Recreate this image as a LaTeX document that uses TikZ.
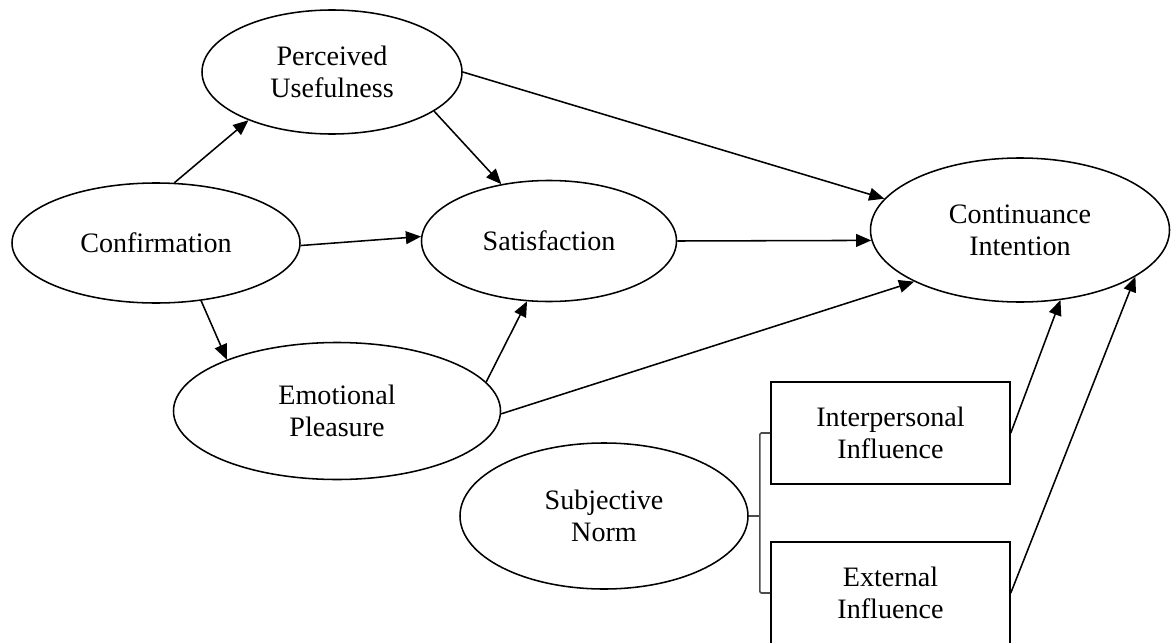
\documentclass[tikz,border=0pt]{standalone}
\usepackage{fontspec}
\setmainfont{Liberation Serif}
\usetikzlibrary{arrows.meta,shapes.geometric}
\tikzset{arr/.style={-{Triangle[length=3.8mm,width=3.2mm]},line width=1.1pt}}

\begin{document}
\begin{tikzpicture}[font=\fontsize{20}{23}\selectfont,
 lat/.style={ellipse,draw,line width=1.1pt,inner sep=0pt,align=center},
 ind/.style={draw,line width=1.1pt,minimum width=5.975cm,minimum height=2.55cm,align=center}]
\useasboundingbox (0,0) rectangle (29.3,-16.05);
\node[lat,minimum width=6.5cm,minimum height=3.1cm] (pu) at (8.3,-1.8) {Perceived\\Usefulness};
\node[lat,minimum width=7.2cm,minimum height=3cm] (conf) at (3.9,-6.075) {Confirmation};
\node[lat,minimum width=6.375cm,minimum height=3.025cm] (sat) at (13.725,-6.025) {Satisfaction};
\node[lat,minimum width=7.475cm,minimum height=3.6cm] (ci) at (25.5,-5.75) {Continuance\\Intention};
\node[lat,minimum width=8.175cm,minimum height=3.425cm] (ep) at (8.425,-10.275) {Emotional\\Pleasure};
\node[lat,minimum width=7.2cm,minimum height=3.65cm] (sn) at (15.1,-12.9) {Subjective\\Norm};
\node[ind] (ip) at (22.2625,-10.825) {Interpersonal\\Influence};
\node[ind] (ext) at (22.2625,-14.825) {External\\Influence};
% paths
\draw[arr] (conf.73) -- (pu.210);
\draw[arr] (pu.-21) -- (sat.130);
\draw[arr] (conf.-1) -- (sat.178);
\draw[arr] (conf.-52) -- (ep.155);
\draw[arr] (ep.11) -- (sat.250);
\draw[arr] (pu.0) -- (ci.167);
\draw[arr] (sat.east) -- (ci.184);
\draw[arr] (ep.-1) -- (ci.206);
\draw[arr] (ip.east) -- (ci.-60);
\draw[arr] (ext.east) -- (ci.-22);
% bracket
\draw[line width=1.1pt,black!70] (sn.east) -- ++(0.275,0) coordinate (br);
\draw[line width=1.1pt,black!70,rounded corners=1pt] (ip.west) -| (br) |- (ext.west);
\end{tikzpicture}
\end{document}
